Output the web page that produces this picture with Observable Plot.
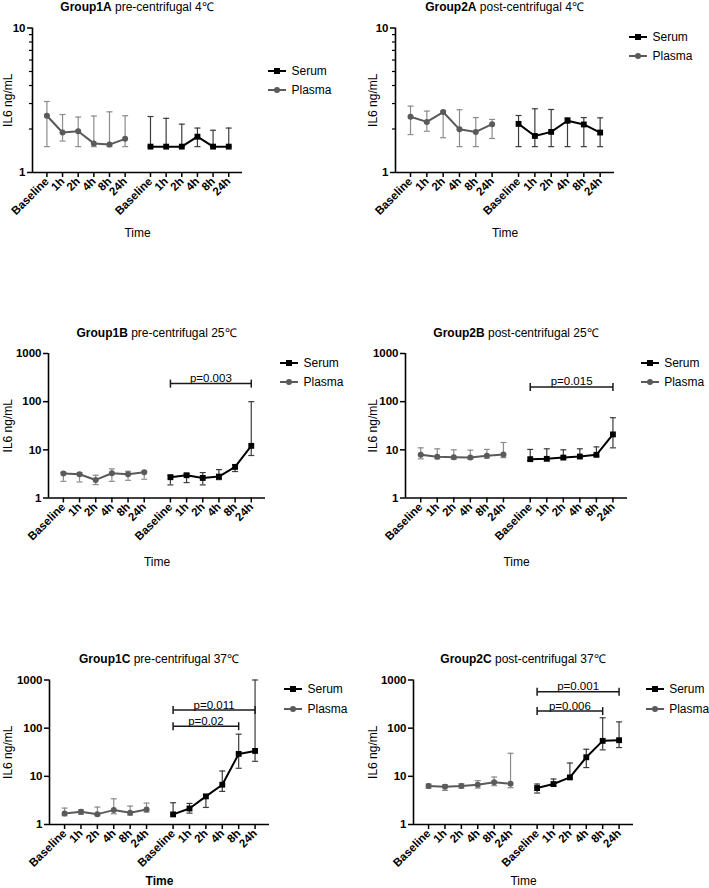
<!DOCTYPE html>
<html><head><meta charset="utf-8">
<script src="https://cdn.jsdelivr.net/npm/d3@7"></script>
<script src="https://cdn.jsdelivr.net/npm/@observablehq/plot@0.6"></script>
<style>
body{margin:0;background:#fff;}
#root{position:relative;width:709px;height:888px;overflow:hidden;font-family:"Liberation Sans",Arial,Helvetica,sans-serif;color:#000;}
.ttl{position:absolute;font-size:12px;white-space:nowrap;transform:translate(-50%,-50%);line-height:1;}
.legtxt{position:absolute;font-size:12px;white-space:nowrap;transform:translateY(-50%);line-height:1;}
.legsym{position:absolute;}
.panel{position:absolute;}
.panel svg{overflow:visible;}
g[aria-label="y-axis label"] text, g[aria-label="x-axis label"] text{font-weight:normal;font-size:12px;}
.boldtime g[aria-label="x-axis label"] text{font-weight:bold;}
</style></head>
<body><div id="root"></div>
<script>
// ---------- data ----------
const times = ["Baseline", "1h", "2h", "4h", "8h", "24h"];
const seriesNames = ["Serum", "Plasma"];
const panelIds = ["Group1A", "Group2A", "Group1B", "Group2B", "Group1C", "Group2C"];
const panelConditions = ["pre-centrifugal 4℃", "post-centrifugal 4℃", "pre-centrifugal 25℃", "post-centrifugal 25℃", "pre-centrifugal 37℃", "post-centrifugal 37℃"];
const yAxisMax = [10, 10, 1000, 1000, 1000, 1000];
const yMajorTicks = [[1, 10], [1, 10], [1, 10, 100, 1000], [1, 10, 100, 1000], [1, 10, 100, 1000], [1, 10, 100, 1000]];
const yMinorTicks = [[2, 3, 4, 5, 6, 7, 8, 9], [2, 3, 4, 5, 6, 7, 8, 9], [], [], [], []];

// plasma: median, lower, upper (one row per panel)
const plasmaMid = [
  [2.47, 1.89, 1.93, 1.59, 1.56, 1.71],
  [2.43, 2.24, 2.62, 1.99, 1.91, 2.16],
  [3.21, 3.11, 2.37, 3.26, 3.11, 3.42],
  [7.87, 7.15, 7.03, 6.92, 7.5, 8.0],
  [1.70, 1.84, 1.64, 1.99, 1.75, 2.05],
  [6.29, 6.09, 6.29, 6.7, 7.5, 7.03]
];
const plasmaLo = [
  [1.51, 1.65, 1.51, 1.51, 1.51, 1.51],
  [1.83, 1.93, 1.74, 1.51, 1.51, 1.72],
  [2.22, 2.15, 1.90, 2.22, 2.33, 2.45],
  [6.5, 6.5, 6.4, 6.4, 6.7, 6.9],
  [1.52, 1.62, 1.52, 1.67, 1.56, 1.81],
  [5.62, 5.11, 5.7, 5.7, 6.4, 5.8]
];
const plasmaHi = [
  [3.10, 2.52, 2.42, 2.46, 2.63, 2.47],
  [2.88, 2.66, 2.66, 2.72, 2.40, 2.33],
  [3.42, 3.37, 2.97, 4.02, 3.59, 3.59],
  [11.0, 10.5, 10.0, 9.84, 10.2, 14.2],
  [2.19, 2.02, 2.30, 3.42, 2.41, 2.78],
  [6.92, 6.7, 7.03, 8.13, 9.68, 30.1]
];
// serum: median, lower, upper
const serumMid = [
  [1.51, 1.51, 1.51, 1.77, 1.51, 1.51],
  [2.17, 1.79, 1.91, 2.28, 2.15, 1.89],
  [2.70, 2.97, 2.61, 2.78, 4.42, 12.1],
  [6.4, 6.5, 6.9, 7.26, 7.87, 20.9],
  [1.62, 2.15, 3.83, 6.7, 29.2, 33.7],
  [5.71, 6.92, 9.5, 24.9, 54.5, 56.2]
];
const serumLo = [
  [1.51, 1.51, 1.51, 1.51, 1.51, 1.51],
  [1.51, 1.51, 1.51, 1.51, 1.51, 1.51],
  [1.87, 2.09, 1.87, 2.41, 3.54, 7.62],
  [6.0, 6.1, 6.5, 6.8, 7.4, 11.0],
  [1.62, 1.72, 2.26, 4.87, 14.7, 20.5],
  [4.5, 6.3, 9.1, 15.2, 35.4, 39.6]
];
const serumHi = [
  [2.44, 2.37, 2.16, 2.03, 1.96, 2.03],
  [2.48, 2.76, 2.73, 2.39, 2.40, 2.39],
  [2.97, 3.21, 3.37, 3.89, 4.95, 100],
  [10.2, 10.5, 10.0, 10.5, 11.5, 46.4],
  [2.83, 2.74, 4.2, 12.9, 75, 1000],
  [6.92, 8.8, 18.9, 36.5, 164, 135]
];
// significance brackets (serum Baseline -> target time)
const pLabels = [[], [], ["p=0.003"], ["p=0.015"], ["p=0.011", "p=0.02"], ["p=0.001", "p=0.006"]];
const pTargets = [[], [], ["24h"], ["24h"], ["24h", "8h"], ["24h", "8h"]];
const pLevels = [[], [], [237], [202], [237, 110], [571, 226]];

// ---------- layout / style ----------
const FONT = '"Liberation Sans", Arial, Helvetica, sans-serif';
const SERUM_GAP = 6.62;          // index offset of the serum group
const X_DOMAIN = [-0.92, 12.5];
const colors = {Serum: "#000000", Plasma: "#5a5a5a"};
const errColors = {Serum: "#3c3c3c", Plasma: "#8c8c8c"};
const frames = [
  {L: 32,  R: 242, T: 27.5,  B: 172,   top: 0,   h: 250, yOff: 29, xOff: 64,   legX: 268,   legY: 70.7,  titleY: 7},
  {L: 395, R: 614, T: 27.5,  B: 172,   top: 0,   h: 250, yOff: 27, xOff: 64,   legX: 629,   legY: 36.7,  titleY: 7},
  {L: 48,  R: 265, T: 353,   B: 497.5, top: 290, h: 290, yOff: 45, xOff: 68,   legX: 280,   legY: 362.7, titleY: 333},
  {L: 405, R: 627, T: 353,   B: 497.5, top: 290, h: 290, yOff: 37, xOff: 68,   legX: 640.7, legY: 362.7, titleY: 333},
  {L: 49,  R: 269, T: 679.5, B: 824,   top: 590, h: 298, yOff: 46, xOff: 60,   legX: 284,   legY: 689.3, titleY: 659},
  {L: 413, R: 633, T: 679.5, B: 824,   top: 590, h: 298, yOff: 45, xOff: 60,   legX: 645.7, legY: 689.3, titleY: 659}
];

const xPos = (series, j) => series === "Plasma" ? j : j + SERUM_GAP;
const tickPositions = [];
const tickLabel = new Map();
for (const s of ["Plasma", "Serum"]) times.forEach((t, j) => { const p = xPos(s, j); tickPositions.push(p); tickLabel.set(p, t); });

const hCap = {draw(ctx, size) { const w = Math.sqrt(size / Math.PI); ctx.moveTo(-w, 0); ctx.lineTo(w, 0); }};
const vCap = {draw(ctx, size) { const w = Math.sqrt(size / Math.PI); ctx.moveTo(0, -w); ctx.lineTo(0, w); }};

const root = document.getElementById("root");

panelIds.forEach((id, i) => {
  const f = frames[i];
  const col = i % 2;
  const sx = col ? 354 : 0;
  const width = col ? 355 : 354;

  const rows = [];
  times.forEach((t, j) => {
    rows.push({series: "Plasma", time: t, x: xPos("Plasma", j), mid: plasmaMid[i][j], lo: plasmaLo[i][j], hi: plasmaHi[i][j]});
  });
  times.forEach((t, j) => {
    rows.push({series: "Serum", time: t, x: xPos("Serum", j), mid: serumMid[i][j], lo: serumLo[i][j], hi: serumHi[i][j]});
  });
  const brackets = pLabels[i].map((lab, k) => ({
    label: lab,
    x1: xPos("Serum", 0),
    x2: xPos("Serum", times.indexOf(pTargets[i][k])),
    y: pLevels[i][k]
  }));

  const marks = [];
  for (const s of ["Plasma", "Serum"]) {
    const d = rows.filter(r => r.series === s);
    marks.push(Plot.ruleX(d, {x: "x", y1: "lo", y2: "hi", stroke: errColors[s], strokeWidth: 1.2}));
    marks.push(Plot.dot(d, {x: "x", y: "hi", symbol: hCap, r: 3, stroke: errColors[s], fill: "none", strokeWidth: 1.2}));
    marks.push(Plot.dot(d, {x: "x", y: "lo", symbol: hCap, r: 3, stroke: errColors[s], fill: "none", strokeWidth: 1.2}));
  }
  for (const s of ["Plasma", "Serum"]) {
    const d = rows.filter(r => r.series === s);
    marks.push(Plot.line(d, {x: "x", y: "mid", stroke: colors[s], strokeWidth: 2}));
    marks.push(Plot.dot(d, {x: "x", y: "mid", symbol: s === "Serum" ? "square" : "circle", r: s === "Serum" ? 3.3 : 3, fill: colors[s], stroke: "none"}));
  }
  if (brackets.length) {
    marks.push(Plot.link(brackets, {x1: "x1", x2: "x2", y1: "y", y2: "y", stroke: "#1a1a1a", strokeWidth: 1.5}));
    marks.push(Plot.dot(brackets, {x: "x1", y: "y", symbol: vCap, r: 4, stroke: "#1a1a1a", fill: "none", strokeWidth: 1.5}));
    marks.push(Plot.dot(brackets, {x: "x2", y: "y", symbol: vCap, r: 4, stroke: "#1a1a1a", fill: "none", strokeWidth: 1.5}));
    marks.push(Plot.text(brackets, {x: d => (d.x1 + d.x2) / 2, y: "y", text: "label", dy: -1.5, lineAnchor: "bottom", fontWeight: "normal", fontSize: 11.5, fill: "#000"}));
  }
  // axes
  marks.push(Plot.axisY({ticks: yMajorTicks[i], tickFormat: d => String(d), tickSize: 5, tickPadding: 2, strokeWidth: 1.5,
    fontSize: 11.5, label: "IL6 ng/mL", labelAnchor: "center", labelOffset: f.yOff, labelArrow: "none"}));
  if (yMinorTicks[i].length) marks.push(Plot.axisY({ticks: yMinorTicks[i], tickFormat: () => "", tickSize: 3, strokeWidth: 1.2, label: null}));
  marks.push(Plot.axisX({ticks: tickPositions, tickFormat: d => tickLabel.get(d), tickSize: 5, tickPadding: 2, tickRotate: -45, strokeWidth: 1.5,
    fontSize: 11.5, label: "Time", labelAnchor: "center", labelOffset: f.xOff, labelArrow: "none"}));
  marks.push(Plot.ruleX([X_DOMAIN[0]], {stroke: "#000", strokeWidth: 1.6}));
  marks.push(Plot.ruleY([1], {stroke: "#000", strokeWidth: 1.6}));

  const chart = Plot.plot({
    width, height: f.h,
    marginLeft: f.L - sx, marginRight: sx + width - f.R,
    marginTop: f.T - f.top, marginBottom: f.top + f.h - f.B,
    x: {domain: X_DOMAIN, label: null},
    y: {type: "log", domain: [1, yAxisMax[i]], label: null},
    style: {fontFamily: FONT, fontSize: "11px", fontWeight: "bold", color: "#000", background: "transparent", overflow: "visible"},
    marks
  });
  const wrap = document.createElement("div");
  wrap.className = "panel" + (i === 4 ? " boldtime" : "");
  wrap.style.left = sx + "px";
  wrap.style.top = f.top + "px";
  wrap.appendChild(chart);
  root.appendChild(wrap);

  // title
  const t = document.createElement("div");
  t.className = "ttl";
  t.style.left = ((f.L + f.R) / 2) + "px";
  t.style.top = f.titleY + "px";
  t.innerHTML = `<b>${id}</b> ${panelConditions[i]}`;
  root.appendChild(t);

  // legend
  seriesNames.forEach((s, k) => {
    const cy = f.legY + k * 19.5;
    const sym = document.createElementNS("http://www.w3.org/2000/svg", "svg");
    sym.setAttribute("width", 18); sym.setAttribute("height", 10);
    sym.setAttribute("class", "legsym");
    sym.style.left = f.legX + "px"; sym.style.top = (cy - 5) + "px";
    const ln = document.createElementNS("http://www.w3.org/2000/svg", "line");
    ln.setAttribute("x1", 0); ln.setAttribute("x2", 18); ln.setAttribute("y1", 5); ln.setAttribute("y2", 5);
    ln.setAttribute("stroke", colors[s]); ln.setAttribute("stroke-width", 2);
    sym.appendChild(ln);
    if (s === "Serum") {
      const r = document.createElementNS("http://www.w3.org/2000/svg", "rect");
      r.setAttribute("x", 6); r.setAttribute("y", 2); r.setAttribute("width", 6); r.setAttribute("height", 6); r.setAttribute("fill", colors[s]);
      sym.appendChild(r);
    } else {
      const c = document.createElementNS("http://www.w3.org/2000/svg", "circle");
      c.setAttribute("cx", 9); c.setAttribute("cy", 5); c.setAttribute("r", 3); c.setAttribute("fill", colors[s]);
      sym.appendChild(c);
    }
    root.appendChild(sym);
    const lt = document.createElement("div");
    lt.className = "legtxt";
    lt.style.left = (f.legX + 23.5) + "px";
    lt.style.top = cy + "px";
    lt.textContent = s;
    root.appendChild(lt);
  });
});
</script>
</body></html>
